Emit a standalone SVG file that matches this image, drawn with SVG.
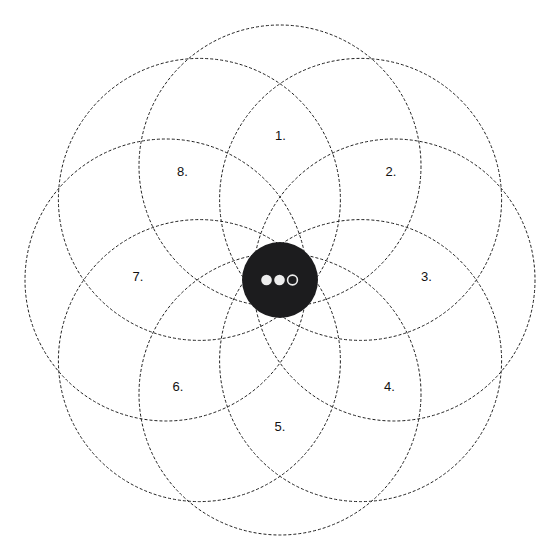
<svg xmlns="http://www.w3.org/2000/svg" width="560" height="560" viewBox="0 0 560 560">
  <style>
    .ring { fill: none; stroke: #1f1f1f; stroke-width: 1; stroke-dasharray: 3 2; }
    .lbl { font-family: "Liberation Sans", Arial, sans-serif; font-size: 13px; fill: #111111; text-anchor: middle; }
  </style>
  <rect width="560" height="560" fill="#ffffff"/>
  <g id="connectors">
    <circle class="ring" cx="280" cy="166" r="141"/>
    <circle class="ring" cx="360.6" cy="199.4" r="141"/>
    <circle class="ring" cx="394" cy="280" r="141"/>
    <circle class="ring" cx="360.6" cy="360.6" r="141"/>
    <circle class="ring" cx="280" cy="394" r="141"/>
    <circle class="ring" cx="199.4" cy="360.6" r="141"/>
    <circle class="ring" cx="166" cy="280" r="141"/>
    <circle class="ring" cx="199.4" cy="199.4" r="141"/>
  </g>
  <g id="node-1"><text class="lbl" x="280.5" y="140">1.</text></g>
  <g id="node-2"><text class="lbl" x="391" y="176">2.</text></g>
  <g id="node-3"><text class="lbl" x="426.5" y="281">3.</text></g>
  <g id="node-4"><text class="lbl" x="389.5" y="391">4.</text></g>
  <g id="node-5"><text class="lbl" x="280" y="431">5.</text></g>
  <g id="node-6"><text class="lbl" x="178" y="391">6.</text></g>
  <g id="node-7"><text class="lbl" x="138" y="281">7.</text></g>
  <g id="node-8"><text class="lbl" x="182.5" y="176">8.</text></g>
  <g id="center">
    <circle cx="280" cy="280" r="38" fill="#1c1c1e"/>
    <circle cx="266.5" cy="280" r="5.3" fill="#ededed"/>
    <circle cx="279.5" cy="280" r="5.3" fill="#ededed"/>
    <circle cx="292.5" cy="280" r="4.9" fill="none" stroke="#ededed" stroke-width="1.6"/>
  </g>
</svg>
